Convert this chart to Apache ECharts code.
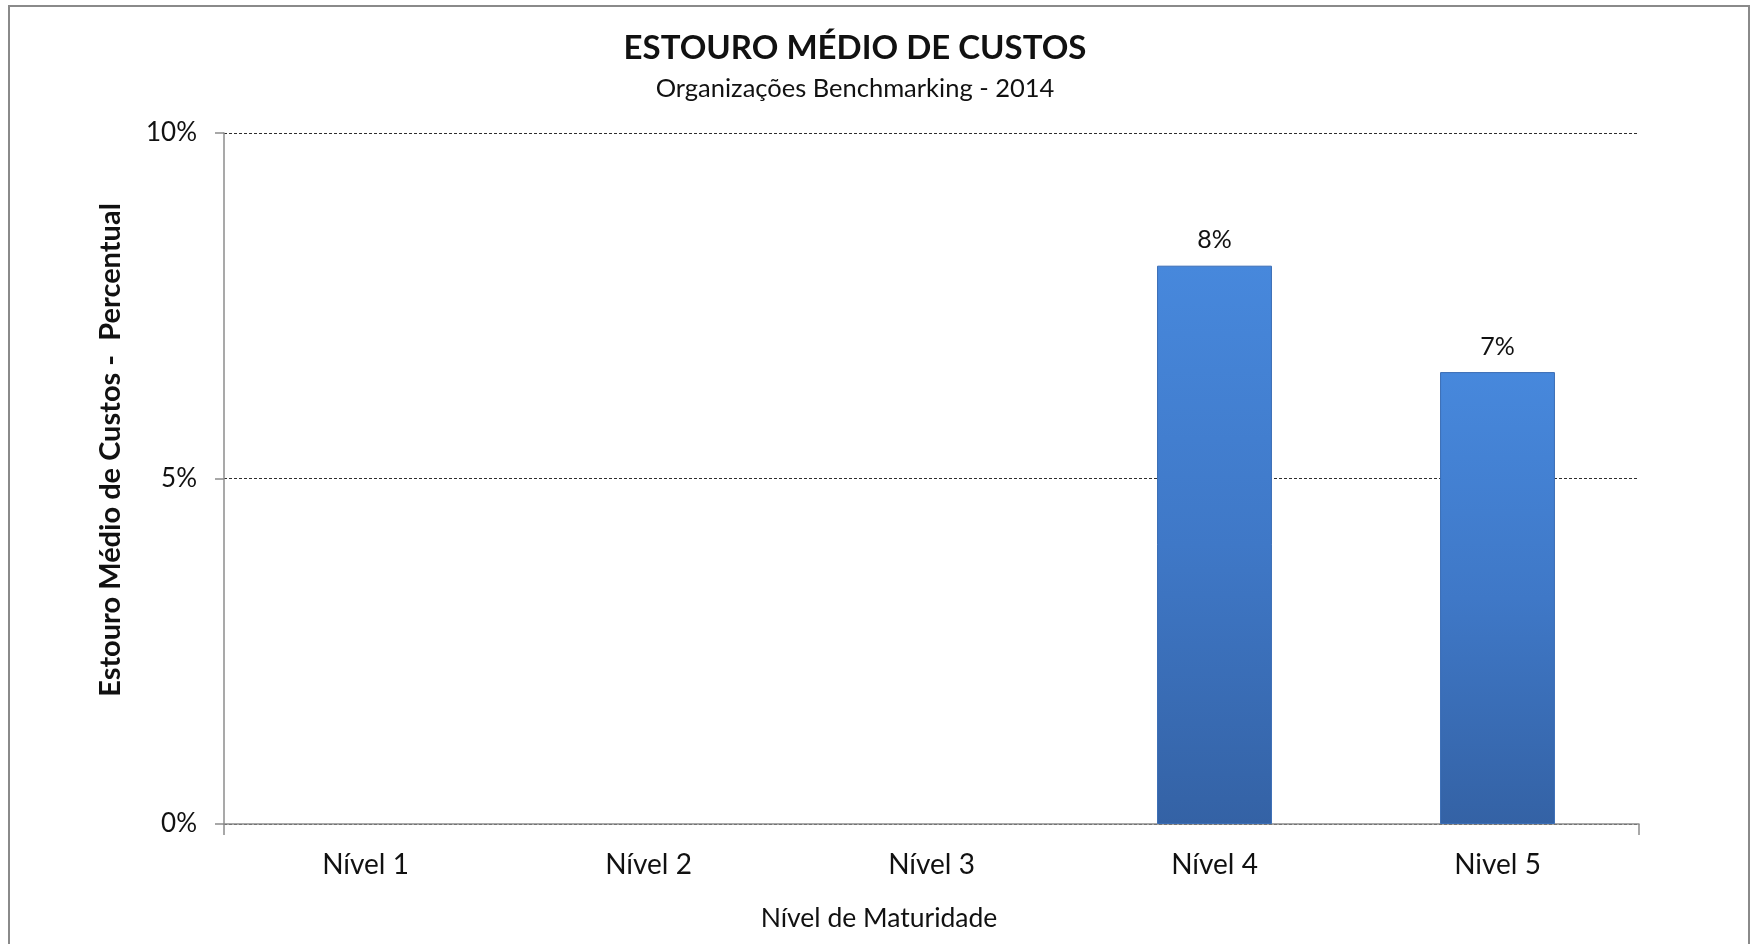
<!DOCTYPE html>
<html>
<head>
<meta charset="utf-8">
<script src="https://cdn.jsdelivr.net/npm/echarts@6/dist/echarts.min.js"></script>
<style>
  html, body { margin: 0; padding: 0; background: #fff; }
  #chart { width: 1754px; height: 944px; }
</style>
</head>
<body>
<div id="chart"></div>
<script>
// Maturity levels and the average cost overrun (percent) for each
const categories = ['Nível 1', 'Nível 2', 'Nível 3', 'Nível 4', 'Nivel 5'];
const overrun = [null, null, null, 8.08, 6.54];
const yTicks = [0, 5, 10];

const titleText = 'ESTOURO MÉDIO DE CUSTOS';
const subtitleText = 'Organizações Benchmarking - 2014';
const xAxisName = 'Nível de Maturidade';
const yAxisName = 'Estouro Médio de Custos -  Percentual';

const FONT = 'Lato, "Open Sans", sans-serif';
const TEXT = '#111';

const chart = echarts.init(document.getElementById('chart'), null, { renderer: 'canvas' });

chart.setOption({
  backgroundColor: '#ffffff',
  animation: false,
  grid: { left: 224, right: 115, top: 133, bottom: 120, containLabel: false },
  graphic: [
    // outer frame
    { type: 'rect', shape: { x: 9, y: 6, width: 1740, height: 960 },
      style: { fill: 'none', stroke: '#8a8a8a', lineWidth: 2 }, silent: true },
    { type: 'text', x: 855, y: 48,
      style: { text: titleText, font: 'bold 33px ' + FONT, fill: TEXT,
               textAlign: 'center', textVerticalAlign: 'middle' } },
    { type: 'text', x: 855, y: 89,
      style: { text: subtitleText, font: '25.5px ' + FONT, fill: TEXT,
               textAlign: 'center', textVerticalAlign: 'middle' } },
    { type: 'text', x: 879, y: 918,
      style: { text: xAxisName, font: '26.5px ' + FONT, fill: TEXT,
               textAlign: 'center', textVerticalAlign: 'middle' } },
    { type: 'text', x: 111, y: 450, rotation: Math.PI / 2,
      style: { text: yAxisName, font: 'bold 29px ' + FONT, fill: TEXT,
               textAlign: 'center', textVerticalAlign: 'middle' } }
  ],
  xAxis: {
    type: 'category',
    data: categories,
    boundaryGap: true,
    axisLine: { show: true, lineStyle: { color: '#8c8c8c', width: 1.5 } },
    axisTick: {
      show: true, length: 11, alignWithLabel: false,
      interval: function (i) { return i === 0; },
      lineStyle: { color: '#8c8c8c', width: 1.5 }
    },
    axisLabel: { color: TEXT, fontFamily: FONT, fontSize: 28, margin: 27 },
    splitLine: { show: false }
  },
  yAxis: {
    type: 'value',
    min: yTicks[0],
    max: yTicks[yTicks.length - 1],
    interval: yTicks[1] - yTicks[0],
    axisLine: { show: true, lineStyle: { color: '#8c8c8c', width: 1.5 } },
    axisTick: { show: true, length: 9, inside: false, lineStyle: { color: '#8c8c8c', width: 1.5 } },
    axisLabel: { color: TEXT, fontFamily: FONT, fontSize: 26, margin: 27,
                 formatter: function (v) { return v + '%'; } },
    splitLine: { show: true, lineStyle: { color: '#2e2e2e', width: 1, type: [3, 2] } }
  },
  series: [{
    type: 'bar',
    data: overrun,
    barWidth: '40.6%',
    itemStyle: {
      color: new echarts.graphic.LinearGradient(0, 0, 0, 1, [
        { offset: 0, color: '#4788dc' },
        { offset: 0.5, color: '#3f78c7' },
        { offset: 1, color: '#3462a5' }
      ]),
      borderColor: '#3a6db5',
      borderWidth: 1
    },
    label: {
      show: true,
      position: 'top',
      distance: 13,
      color: TEXT,
      fontFamily: FONT,
      fontSize: 25,
      formatter: function (p) { return Math.round(p.value) + '%'; }
    },
    z: 3
  }]
});
</script>
</body>
</html>
